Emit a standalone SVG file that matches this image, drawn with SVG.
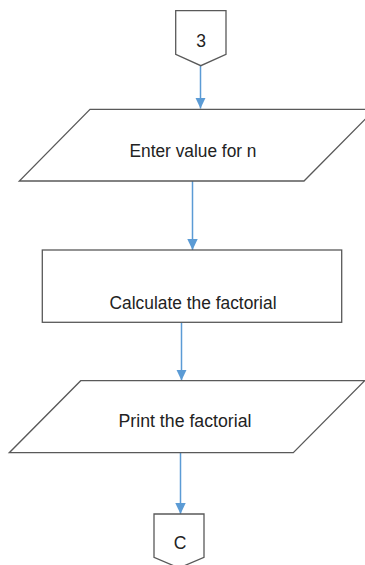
<svg xmlns="http://www.w3.org/2000/svg" width="365" height="565" viewBox="0 0 365 565">
<defs>
<style>
.shape{fill:#ffffff;stroke:#595959;stroke-width:1.3}
.conn{fill:none;stroke:#5B9BD5;stroke-width:1.5}
.lbl{font-family:"Liberation Sans",Arial,sans-serif;font-size:17.5px;fill:#222222;text-anchor:middle}
</style>
<marker id="arr" markerUnits="userSpaceOnUse" markerWidth="12" markerHeight="12" viewBox="0 0 12 12" refX="11" refY="6" orient="auto">
<path d="M0,0.8 L11,6 L0,11.2 Z" fill="#5B9BD5"/>
</marker>
</defs>
<rect width="365" height="565" fill="#ffffff"/>
<g id="connectors">
<line class="conn" x1="200.5" y1="66" x2="200.5" y2="108.5" marker-end="url(#arr)"/>
<line class="conn" x1="192.5" y1="181" x2="192.5" y2="250" marker-end="url(#arr)"/>
<line class="conn" x1="181.5" y1="322.5" x2="181.5" y2="380.5" marker-end="url(#arr)"/>
<line class="conn" x1="180.5" y1="453" x2="180.5" y2="514" marker-end="url(#arr)"/>
</g>
<g id="node-start">
<polygon class="shape" points="175.7,10.7 226,10.7 226,54.3 200.8,65.7 175.7,54.3"/>
<text class="lbl" x="201" y="47.3">3</text>
</g>
<g id="node-input">
<polygon class="shape" points="90,109.3 375,109.3 304,181 19.3,181"/>
<text class="lbl" x="193" y="157.3" textLength="127" lengthAdjust="spacingAndGlyphs">Enter value for n</text>
</g>
<g id="node-calc">
<rect class="shape" x="42.3" y="250" width="299.4" height="72.3"/>
<text class="lbl" x="193" y="309.3" textLength="167" lengthAdjust="spacingAndGlyphs">Calculate the factorial</text>
</g>
<g id="node-output">
<polygon class="shape" points="80.7,380.7 364.7,380.7 293.3,452.7 9.3,452.7"/>
<text class="lbl" x="185" y="426.7" textLength="133" lengthAdjust="spacingAndGlyphs">Print the factorial</text>
</g>
<g id="node-end">
<polygon class="shape" points="154,514 204,514 204,557.3 179,568 154,557.3"/>
<text class="lbl" x="180" y="549.3">C</text>
</g>
</svg>
